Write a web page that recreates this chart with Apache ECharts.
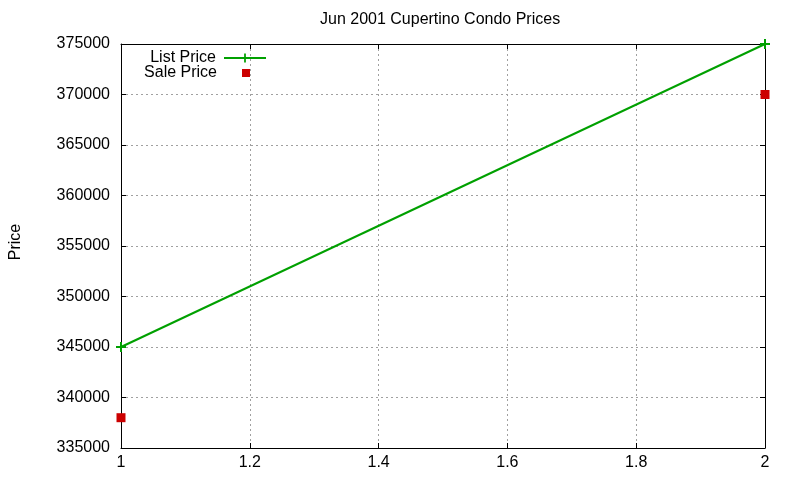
<!DOCTYPE html>
<html>
<head>
<meta charset="utf-8">
<script src="https://cdn.jsdelivr.net/npm/echarts@6/dist/echarts.min.js"></script>
<style>
  html, body { margin: 0; padding: 0; background: #fff; }
  #chart { width: 800px; height: 480px; }
</style>
</head>
<body>
<div id="chart"></div>
<script>
// Jun 2001 Cupertino condo data
const xValues = [1, 2];
const listPrice = [345000, 375000];
const salePrice = [338000, 370000];

const FONT = '"Liberation Sans", Arial, sans-serif';
const PLUS = 'path://M4,0h2v4h4v2h-4v4h-2v-4h-4v-2h4z';

const chart = echarts.init(document.getElementById('chart'));

const tickCommon = { show: true, inside: true, length: 5, lineStyle: { color: '#000', width: 1 } };
const lineCommon = { show: true, onZero: false, lineStyle: { color: '#000', width: 1 } };
const gridLine = { show: true, lineStyle: { color: '#a0a0a0', width: 1, type: [2, 3] } };

chart.setOption({
  animation: false,
  backgroundColor: '#fff',
  textStyle: { fontFamily: FONT, color: '#000' },
  title: {
    text: 'Jun 2001 Cupertino Condo Prices',
    left: 320, top: 12, padding: 0,
    textStyle: { fontSize: 16, fontWeight: 'normal', color: '#000', fontFamily: FONT, lineHeight: 16 }
  },
  legend: [
    {
      data: ['List Price'],
      right: 533, top: 50, padding: 0,
      align: 'right', orient: 'vertical',
      itemWidth: 42, itemHeight: 11,
      selectedMode: false,
      textStyle: { fontSize: 16, color: '#000', fontFamily: FONT, lineHeight: 16, padding: [0, 3, 0, 0] }
    },
    {
      data: [{ name: 'Sale Price', icon: 'rect' }],
      right: 550, top: 65, padding: 0,
      align: 'right', orient: 'vertical',
      itemWidth: 8, itemHeight: 8,
      selectedMode: false,
      textStyle: { fontSize: 16, color: '#000', fontFamily: FONT, lineHeight: 16, padding: [0, 20, 0, 0] }
    }
  ],
  grid: { left: 119, right: 35, top: 44, bottom: 32, containLabel: false },
  xAxis: [
    {
      type: 'value', min: 1, max: 2, interval: 0.2,
      axisLine: lineCommon, axisTick: tickCommon,
      axisLabel: { margin: 7, fontSize: 16, color: '#000', fontFamily: FONT },
      splitLine: gridLine
    },
    {
      type: 'value', position: 'top', min: 1, max: 2, interval: 0.2,
      axisLine: lineCommon, axisTick: tickCommon,
      axisLabel: { show: false }, splitLine: { show: false }
    }
  ],
  yAxis: [
    {
      type: 'value', min: 335000, max: 375000, interval: 5000,
      name: 'Price', nameLocation: 'middle', nameGap: 97, nameRotate: 90,
      nameTextStyle: { fontSize: 16, color: '#000', fontFamily: FONT, padding: [0, 0, 0, 8] },
      axisLine: lineCommon, axisTick: tickCommon,
      axisLabel: { margin: 11, fontSize: 16, color: '#000', fontFamily: FONT, formatter: v => String(v) },
      splitLine: gridLine
    },
    {
      type: 'value', position: 'right', min: 335000, max: 375000, interval: 5000,
      axisLine: lineCommon, axisTick: tickCommon,
      axisLabel: { show: false }, splitLine: { show: false }
    }
  ],
  series: [
    {
      name: 'List Price',
      type: 'line',
      data: xValues.map((x, i) => [x, listPrice[i]]),
      symbol: PLUS, symbolSize: 10, showSymbol: true,
      clip: false,
      itemStyle: { color: '#00a000' },
      lineStyle: { color: '#00a000', width: 2 }
    },
    {
      name: 'Sale Price',
      type: 'scatter',
      data: xValues.map((x, i) => [x, salePrice[i]]),
      symbol: 'rect', symbolSize: 9,
      clip: false,
      itemStyle: { color: '#cc0000', opacity: 1 }
    }
  ]
});
</script>
</body>
</html>
